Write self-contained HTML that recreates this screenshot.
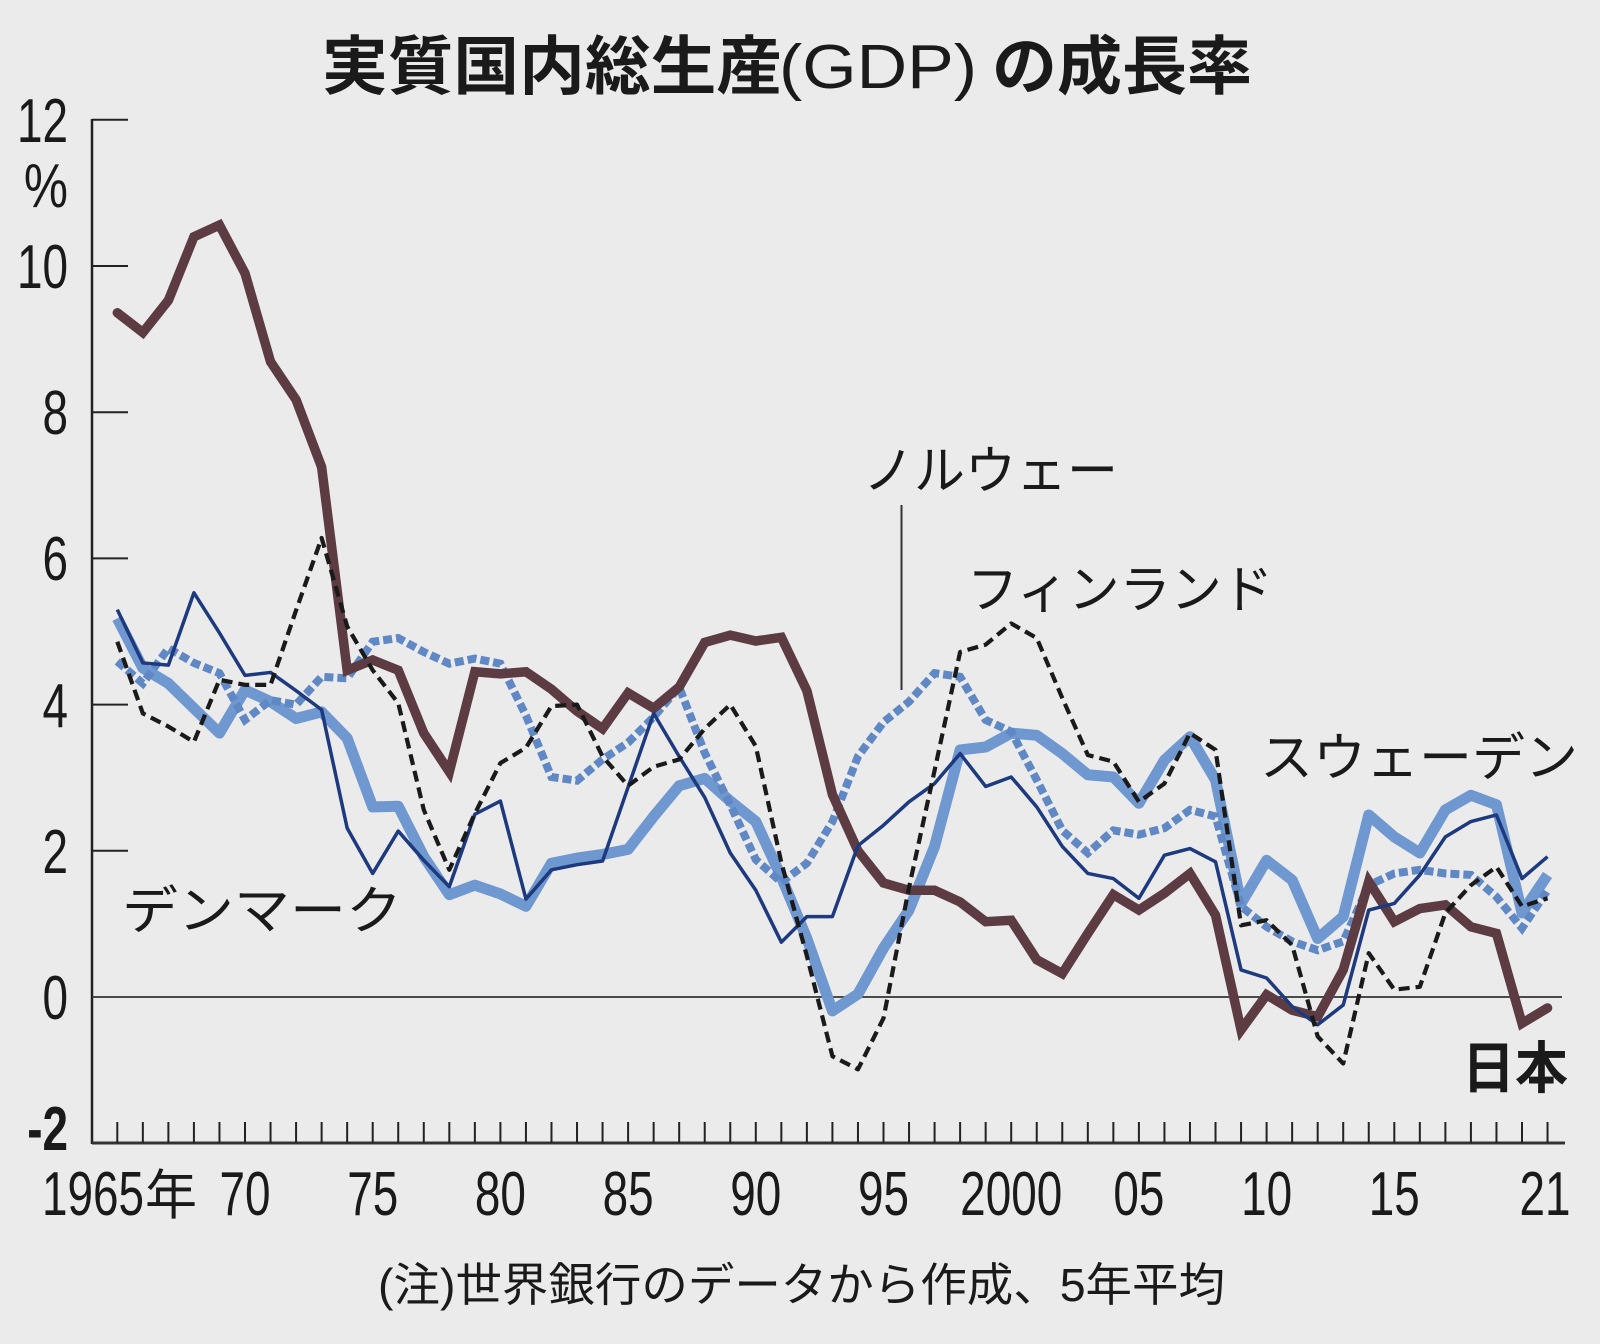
<!DOCTYPE html>
<html>
<head>
<meta charset="utf-8">
<style>
  html, body { margin: 0; padding: 0; background: #ebebeb; }
  svg { display: block; }
  .num { font-family: "Liberation Sans", sans-serif; font-size: 62px; fill: #1a1a1a; }
  .jp { font-family: "Liberation Sans", "Noto Sans CJK JP", sans-serif; fill: #1a1a1a; }
</style>
</head>
<body>
<svg width="1600" height="1344" viewBox="0 0 1600 1344" xmlns="http://www.w3.org/2000/svg">
  <rect width="1600" height="1344" fill="#ebebeb"/>

  <!-- Title -->
  <text class="jp" x="322" y="89" font-size="64" font-weight="bold" textLength="460" lengthAdjust="spacingAndGlyphs" style="font-family:'Noto Sans CJK JP',sans-serif">実質国内総生産</text>
  <text x="779" y="88" font-size="62" textLength="198" lengthAdjust="spacingAndGlyphs" style="font-family:'Liberation Sans',sans-serif;fill:#1a1a1a">(GDP)</text>
  <text class="jp" x="992" y="89" font-size="64" font-weight="bold" textLength="260" lengthAdjust="spacingAndGlyphs" style="font-family:'Noto Sans CJK JP',sans-serif">の成長率</text>

  <!-- Y axis -->
  <line x1="92" y1="119" x2="92" y2="1144" stroke="#222" stroke-width="2.5"/>
  <g stroke="#222" stroke-width="2">
    <line x1="92" y1="119.8" x2="128" y2="119.8"/>
    <line x1="92" y1="266" x2="128" y2="266"/>
    <line x1="92" y1="412.2" x2="128" y2="412.2"/>
    <line x1="92" y1="558.4" x2="128" y2="558.4"/>
    <line x1="92" y1="704.6" x2="128" y2="704.6"/>
    <line x1="92" y1="850.8" x2="128" y2="850.8"/>
  </g>
  <!-- zero line -->
  <line x1="92" y1="997" x2="1562" y2="997" stroke="#333" stroke-width="1.8"/>
  <!-- X axis -->
  <line x1="92" y1="1143" x2="1565" y2="1143" stroke="#333" stroke-width="3"/>
  <line x1="116.3" y1="1132.5" x2="1549" y2="1132.5" stroke="#222" stroke-width="21" stroke-dasharray="2 23.54"/>

  <!-- Y labels -->
  <text class="num" transform="translate(68,142) scale(0.74,1)" text-anchor="end">12</text>
  <text class="num" transform="translate(68,207) scale(0.8,1)" text-anchor="end">%</text>
  <text class="num" transform="translate(68,288) scale(0.74,1)" text-anchor="end">10</text>
  <text class="num" transform="translate(68,434) scale(0.74,1)" text-anchor="end">8</text>
  <text class="num" transform="translate(68,580) scale(0.74,1)" text-anchor="end">6</text>
  <text class="num" transform="translate(68,727) scale(0.74,1)" text-anchor="end">4</text>
  <text class="num" transform="translate(68,873) scale(0.74,1)" text-anchor="end">2</text>
  <text class="num" transform="translate(68,1019) scale(0.74,1)" text-anchor="end">0</text>
  <text class="num" transform="translate(68,1150) scale(0.74,1)" text-anchor="end" font-weight="bold">-2</text>

  <!-- X labels -->
  <text class="num" transform="translate(42,1215) scale(0.74,1)">1965</text>
  <text class="jp" x="145" y="1214" font-size="54" textLength="52" lengthAdjust="spacingAndGlyphs">年</text>
  <text class="num" transform="translate(245,1215) scale(0.74,1)" text-anchor="middle">70</text>
  <text class="num" transform="translate(372.7,1215) scale(0.74,1)" text-anchor="middle">75</text>
  <text class="num" transform="translate(500.4,1215) scale(0.74,1)" text-anchor="middle">80</text>
  <text class="num" transform="translate(628.1,1215) scale(0.74,1)" text-anchor="middle">85</text>
  <text class="num" transform="translate(755.8,1215) scale(0.74,1)" text-anchor="middle">90</text>
  <text class="num" transform="translate(883.5,1215) scale(0.74,1)" text-anchor="middle">95</text>
  <text class="num" transform="translate(1011.2,1215) scale(0.74,1)" text-anchor="middle">2000</text>
  <text class="num" transform="translate(1138.9,1215) scale(0.74,1)" text-anchor="middle">05</text>
  <text class="num" transform="translate(1266.6,1215) scale(0.74,1)" text-anchor="middle">10</text>
  <text class="num" transform="translate(1394.3,1215) scale(0.74,1)" text-anchor="middle">15</text>
  <text class="num" transform="translate(1545,1215) scale(0.74,1)" text-anchor="middle">21</text>

  <!-- Footnote -->
  <text class="jp" x="378" y="1301" font-size="46" textLength="847" lengthAdjust="spacingAndGlyphs">(注)世界銀行のデータから作成、5年平均</text>

  <!-- Series -->
  <g transform="translate(117.3,997) scale(25.54,-73.1)" fill="none" stroke-linejoin="round">
    <!-- Sweden -->
    <polyline vector-effect="non-scaling-stroke" stroke="#6f97d0" stroke-width="11"
      points="0,5.18 1,4.50 2,4.29 3,3.95 4,3.61 5,4.20 6,4.04 7,3.81 8,3.90 9,3.54 10,2.60 11,2.61 12,1.92 13,1.40 14,1.53 15,1.41 16,1.24 17,1.83 18,1.90 19,1.95 20,2.02 21,2.47 22,2.89 23,2.99 24,2.68 25,2.40 26,1.64 27,0.80 28,-0.19 29,0.04 30,0.67 31,1.19 32,2.06 33,3.38 34,3.42 35,3.61 36,3.58 37,3.33 38,3.04 39,3.01 40,2.65 41,3.24 42,3.56 43,2.97 44,1.28 45,1.87 46,1.60 47,0.80 48,1.10 49,2.49 50,2.19 51,1.97 52,2.56 53,2.76 54,2.63 55,1.15 56,1.67"/>
    <!-- Norway -->
    <polyline vector-effect="non-scaling-stroke" stroke="#5f88c4" stroke-width="8" stroke-dasharray="9 4" stroke-linejoin="miter"
      points="0,4.59 1,4.29 2,4.77 3,4.57 4,4.43 5,3.79 6,4.06 7,4.00 8,4.38 9,4.36 10,4.86 11,4.91 12,4.72 13,4.56 14,4.63 15,4.56 16,3.85 17,3.01 18,2.96 19,3.25 20,3.48 21,3.83 22,4.24 23,3.34 24,2.63 25,1.88 26,1.57 27,1.83 28,2.40 29,3.29 30,3.76 31,4.04 32,4.43 33,4.38 34,3.79 35,3.63 36,2.97 37,2.28 38,1.97 39,2.28 40,2.22 41,2.31 42,2.56 43,2.47 44,1.24 45,0.96 46,0.76 47,0.64 48,0.76 49,1.53 50,1.69 51,1.74 52,1.69 53,1.67 54,1.37 55,0.94 56,1.46"/>
    <!-- Japan -->
    <polyline vector-effect="non-scaling-stroke" stroke="#5c3c42" stroke-width="9.5" stroke-linecap="round" stroke-linejoin="miter" stroke-miterlimit="3"
      points="0,9.36 1,9.09 2,9.53 3,10.40 4,10.56 5,9.90 6,8.69 7,8.17 8,7.25 9,4.47 10,4.61 11,4.47 12,3.61 13,3.08 14,4.45 15,4.42 16,4.45 17,4.21 18,3.91 19,3.67 20,4.16 21,3.95 22,4.24 23,4.85 24,4.95 25,4.87 26,4.92 27,4.19 28,2.77 29,2.0 30,1.56 31,1.46 32,1.46 33,1.30 34,1.03 35,1.05 36,0.51 37,0.32 38,0.87 39,1.40 40,1.19 41,1.42 42,1.69 43,1.12 44,-0.45 45,0.03 46,-0.18 47,-0.27 48,0.37 49,1.58 50,1.03 51,1.21 52,1.26 53,0.96 54,0.87 55,-0.36 56,-0.15"/>
    <!-- Denmark -->
    <polyline vector-effect="non-scaling-stroke" stroke="#1e3a7e" stroke-width="3.5"
      points="0,5.30 1,4.57 2,4.54 3,5.53 4,4.98 5,4.40 6,4.44 7,4.19 8,3.93 9,2.31 10,1.69 11,2.27 12,1.87 13,1.51 14,2.50 15,2.68 16,1.34 17,1.74 18,1.81 19,1.86 20,2.87 21,3.88 22,3.29 23,2.73 24,1.97 25,1.46 26,0.75 27,1.10 28,1.10 29,2.07 30,2.35 31,2.67 32,2.92 33,3.33 34,2.88 35,3.01 36,2.60 37,2.06 38,1.69 39,1.62 40,1.35 41,1.94 42,2.03 43,1.85 44,0.37 45,0.26 46,-0.13 47,-0.38 48,-0.11 49,1.19 50,1.28 51,1.67 52,2.19 53,2.40 54,2.49 55,1.62 56,1.92"/>
    <!-- Finland -->
    <polyline vector-effect="non-scaling-stroke" stroke="#1a1a1a" stroke-width="4.2" stroke-dasharray="11 6"
      points="0,4.86 1,3.88 2,3.70 3,3.49 4,4.34 5,4.27 6,4.27 7,5.29 8,6.28 9,5.07 10,4.47 11,4.02 12,2.56 13,1.74 14,2.51 15,3.20 16,3.41 17,3.98 18,4.00 19,3.29 20,2.89 21,3.15 22,3.25 23,3.67 24,4.00 25,3.43 26,1.84 27,0.56 28,-0.81 29,-0.99 30,-0.29 31,1.5 32,3.1 33,4.72 34,4.82 35,5.11 36,4.91 37,4.09 38,3.31 39,3.22 40,2.67 41,2.92 42,3.61 43,3.38 44,0.98 45,1.05 46,0.71 47,-0.54 48,-0.91 49,0.60 50,0.10 51,0.14 52,1.15 53,1.53 54,1.78 55,1.24 56,1.35"/>
  </g>

  <!-- Series labels -->
  <line x1="901.5" y1="505" x2="901.5" y2="690" stroke="#333" stroke-width="2"/>
  <text class="jp" x="863" y="489" font-size="52" textLength="255" lengthAdjust="spacingAndGlyphs">ノルウェー</text>
  <text class="jp" x="967" y="608" font-size="52" textLength="306" lengthAdjust="spacingAndGlyphs">フィンランド</text>
  <text class="jp" x="1260" y="776" font-size="52" textLength="318" lengthAdjust="spacingAndGlyphs">スウェーデン</text>
  <text class="jp" x="122" y="929" font-size="52" textLength="280" lengthAdjust="spacingAndGlyphs">デンマーク</text>
  <text class="jp" x="1462" y="1088" font-size="56" font-weight="bold" textLength="106" lengthAdjust="spacingAndGlyphs">日本</text>
</svg>
</body>
</html>
